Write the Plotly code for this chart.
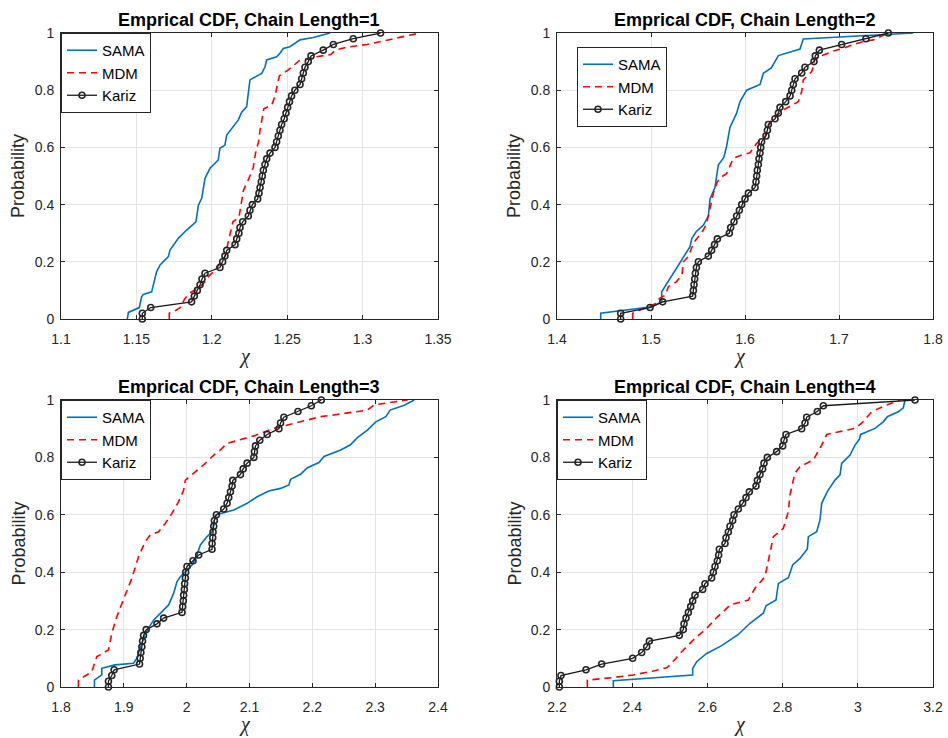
import plotly.graph_objects as go

# ---------------- data ----------------
prob = [0.00, 0.02, 0.04, 0.06, 0.08, 0.10, 0.12, 0.14, 0.16, 0.18,
        0.20, 0.22, 0.24, 0.26, 0.28, 0.30, 0.32, 0.34, 0.36, 0.38,
        0.40, 0.42, 0.44, 0.46, 0.48, 0.50, 0.52, 0.54, 0.56, 0.58,
        0.60, 0.62, 0.64, 0.66, 0.68, 0.70, 0.72, 0.74, 0.76, 0.78,
        0.80, 0.82, 0.84, 0.86, 0.88, 0.90, 0.92, 0.94, 0.96, 0.98, 1.00]

# Chain length = 1
sama1_x = [1.1440, 1.1447, 1.1519, 1.1535, 1.1546, 1.1601, 1.1623, 1.1634, 1.1657, 1.1712,
           1.1723, 1.1778, 1.1833, 1.1895, 1.1911, 1.1933, 1.1955, 1.1988, 1.2043, 1.2054,
           1.2087, 1.2099, 1.2176, 1.2198, 1.2231, 1.2242, 1.2253, 1.2331, 1.2353, 1.2364,
           1.2430, 1.2452, 1.2474, 1.2518, 1.2585, 1.2673, 1.2784]
sama1_y = [0, 0.023, 0.040, 0.078, 0.086, 0.095, 0.142, 0.165, 0.189, 0.218,
           0.241, 0.282, 0.311, 0.340, 0.398, 0.422, 0.492, 0.527, 0.556, 0.597,
           0.608, 0.643, 0.696, 0.723, 0.742, 0.795, 0.836, 0.859, 0.882, 0.906,
           0.917, 0.929, 0.946, 0.952, 0.976, 0.984, 1.0]
mdm1_x = [1.1718, 1.1718, 1.176, 1.179, 1.182, 1.185, 1.191, 1.1955, 1.198, 1.202,
          1.206, 1.209, 1.2105, 1.212, 1.214, 1.218, 1.2195, 1.221, 1.2245, 1.2275,
          1.229, 1.231, 1.232, 1.2335, 1.2345, 1.2397, 1.242, 1.2435, 1.2448, 1.2507,
          1.255, 1.258, 1.2695, 1.279, 1.282, 1.289, 1.303, 1.318, 1.338]
mdm1_y = [0, 0.02, 0.03, 0.04, 0.07, 0.09, 0.107, 0.13, 0.15, 0.17,
          0.20, 0.22, 0.26, 0.30, 0.34, 0.355, 0.41, 0.45, 0.49, 0.53,
          0.58, 0.62, 0.66, 0.70, 0.735, 0.748, 0.78, 0.82, 0.85, 0.871,
          0.888, 0.903, 0.917, 0.925, 0.94, 0.95, 0.96, 0.976, 1.0]
kariz1_x = [1.1539, 1.1539, 1.1595, 1.1866, 1.1884, 1.1904, 1.1922, 1.1935, 1.1955, 1.2054,
            1.2072, 1.2087, 1.2099, 1.2154, 1.2165, 1.2180, 1.2187, 1.2205, 1.2242, 1.2253,
            1.2269, 1.2304, 1.2313, 1.2320, 1.2328, 1.2335, 1.2342, 1.2353, 1.2364, 1.2386,
            1.2419, 1.2430, 1.2441, 1.2452, 1.2463, 1.2480, 1.2492, 1.2503, 1.2515, 1.2529,
            1.2551, 1.2585, 1.2596, 1.2607, 1.2618, 1.2640, 1.2658, 1.2739, 1.2806, 1.2938,
            1.3119]

# Chain length = 2
sama2_x = [1.4465, 1.4465, 1.5007, 1.5114, 1.5114, 1.52, 1.53, 1.5415, 1.5433, 1.548,
           1.5557, 1.561, 1.5628, 1.568, 1.5716, 1.5775, 1.5805, 1.584, 1.591, 1.5947,
           1.6018, 1.616, 1.6195, 1.628, 1.6355, 1.6585, 1.662, 1.72, 1.779]
sama2_y = [0, 0.02, 0.043, 0.06, 0.095, 0.14, 0.19, 0.253, 0.28, 0.305,
           0.328, 0.36, 0.42, 0.46, 0.538, 0.565, 0.605, 0.67, 0.719, 0.76,
           0.80, 0.82, 0.859, 0.878, 0.921, 0.944, 0.979, 0.99, 1.0]
mdm2_x = [1.4805, 1.4805, 1.4883, 1.506, 1.509, 1.515, 1.5185, 1.527, 1.533, 1.5344,
          1.5397, 1.545, 1.5504, 1.5557, 1.5592, 1.5628, 1.5663, 1.5706, 1.5752, 1.5805,
          1.584, 1.5876, 1.5965, 1.6053, 1.6124, 1.6213, 1.6266, 1.632, 1.641, 1.6567,
          1.6603, 1.662, 1.6709, 1.6727, 1.6745, 1.685, 1.6939, 1.7046, 1.7152, 1.7259,
          1.7365, 1.7525]
mdm2_y = [0, 0.02, 0.031, 0.055, 0.072, 0.083, 0.113, 0.13, 0.155, 0.20,
          0.218, 0.264, 0.288, 0.311, 0.334, 0.393, 0.439, 0.48, 0.497, 0.509,
          0.538, 0.562, 0.573, 0.581, 0.614, 0.637, 0.69, 0.707, 0.731, 0.76,
          0.795, 0.836, 0.865, 0.882, 0.911, 0.925, 0.937, 0.946, 0.96, 0.97,
          0.976, 1.0]
kariz2_x = [1.4677, 1.4677, 1.4990, 1.5124, 1.5443, 1.5451, 1.5458, 1.5465, 1.5472, 1.5483,
            1.5504, 1.5610, 1.5645, 1.5676, 1.5706, 1.5833, 1.5848, 1.5883, 1.5911, 1.5940,
            1.5965, 1.6000, 1.6036, 1.6107, 1.6117, 1.6124, 1.6131, 1.6142, 1.6149, 1.6160,
            1.6167, 1.6177, 1.6223, 1.6238, 1.6248, 1.6319, 1.6355, 1.6372, 1.6433, 1.6479,
            1.6497, 1.6514, 1.6532, 1.6603, 1.6638, 1.6734, 1.6748, 1.6791, 1.7028, 1.7287,
            1.7525]

# Chain length = 3
sama3_x = [1.8532, 1.8532, 1.8649, 1.8649, 1.886, 1.9154, 1.9207, 1.927, 1.934, 1.9473,
           1.958, 1.9713, 1.9792, 1.9846, 1.9899, 2.0016, 2.0085, 2.0154, 2.0218, 2.0324,
           2.0404, 2.0457, 2.0564, 2.075, 2.0963, 2.1122, 2.1308, 2.1494, 2.1627, 2.1654,
           2.1813, 2.192, 2.2106, 2.2186, 2.2452, 2.2601, 2.2718, 2.2877, 2.301, 2.317,
           2.3239, 2.3462, 2.3622]
sama3_y = [0, 0.024, 0.042, 0.065, 0.077, 0.083, 0.10, 0.14, 0.187, 0.233,
           0.257, 0.286, 0.326, 0.367, 0.384, 0.408, 0.425, 0.454, 0.495, 0.524,
           0.541, 0.599, 0.605, 0.617, 0.64, 0.663, 0.683, 0.692, 0.704, 0.724,
           0.741, 0.764, 0.782, 0.803, 0.826, 0.843, 0.869, 0.895, 0.924, 0.942,
           0.965, 0.982, 1.0]
mdm3_x = [1.8277, 1.8277, 1.8409, 1.849, 1.8543, 1.857, 1.8622, 1.8755, 1.8808, 1.8888,
          1.9021, 1.9128, 1.9234, 1.934, 1.942, 1.9553, 1.966, 1.9766, 1.9872, 1.9952,
          1.9979, 2.0112, 2.0271, 2.0431, 2.0537, 2.0643, 2.0856, 2.1069, 2.1388, 2.192,
          2.2133, 2.2345, 2.2877, 2.2984, 2.3516]
mdm3_y = [0, 0.024, 0.042, 0.053, 0.088, 0.106, 0.112, 0.129, 0.187, 0.245,
          0.32, 0.379, 0.454, 0.506, 0.53, 0.541, 0.57, 0.605, 0.646, 0.686,
          0.721, 0.744, 0.774, 0.808, 0.826, 0.849, 0.863, 0.875, 0.901, 0.93,
          0.942, 0.948, 0.965, 0.983, 1.0]
kariz3_x = [1.8755, 1.8755, 1.8808, 1.8846, 1.925, 1.926, 1.9271, 1.9287, 1.9298, 1.9314,
            1.9356, 1.9527, 1.9633, 1.9926, 1.9936, 1.9947, 1.9952, 1.9963, 1.9968, 1.9979,
            1.9984, 2.0005, 2.0101, 2.0191, 2.0404, 2.0404, 2.0415, 2.042, 2.0431, 2.0441,
            2.0473, 2.059, 2.0643, 2.067, 2.0697, 2.0723, 2.0734, 2.0856, 2.0899, 2.0962,
            2.1069, 2.1079, 2.1095, 2.1164, 2.1282, 2.1468, 2.1494, 2.1547, 2.1771, 2.1984,
            2.2143]

# Chain length = 4
sama4_x = [2.3498, 2.3498, 2.5608, 2.5608, 2.5715, 2.598, 2.638, 2.66, 2.6823, 2.7133,
           2.7488, 2.7559, 2.7825, 2.7887, 2.8153, 2.8268, 2.8463, 2.8658, 2.8685, 2.8906,
           2.8995, 2.904, 2.9189, 2.9393, 2.9527, 2.9571, 2.9793, 2.9926, 3.004, 3.0077,
           3.0458, 3.0679, 3.0785, 3.1078, 3.1211, 3.1255]
sama4_y = [0, 0.022, 0.042, 0.065, 0.088, 0.117, 0.144, 0.164, 0.183, 0.222,
           0.257, 0.283, 0.303, 0.361, 0.381, 0.425, 0.448, 0.481, 0.524, 0.541,
           0.582, 0.64, 0.681, 0.721, 0.739, 0.779, 0.808, 0.843, 0.863, 0.88,
           0.901, 0.924, 0.942, 0.959, 0.973, 1.0]
mdm4_x = [2.2807, 2.2807, 2.3498, 2.403, 2.4562, 2.4917, 2.5005, 2.5316, 2.5582, 2.5715,
          2.598, 2.6247, 2.6468, 2.6601, 2.7089, 2.7266, 2.7532, 2.762, 2.7754, 2.802,
          2.8152, 2.8197, 2.8329, 2.8463, 2.8817, 2.9039, 2.9172, 2.9926, 3.0103, 3.0369,
          3.0768, 3.1123]
mdm4_y = [0, 0.024, 0.033, 0.042, 0.056, 0.067, 0.077, 0.123, 0.158, 0.175,
          0.204, 0.242, 0.268, 0.286, 0.303, 0.344, 0.384, 0.437, 0.524, 0.553,
          0.611, 0.669, 0.745, 0.768, 0.791, 0.843, 0.88, 0.901, 0.919, 0.959,
          0.983, 1.0]
kariz4_x = [2.2062, 2.2062, 2.2106, 2.2771, 2.3188, 2.4012, 2.4252, 2.4385, 2.4456, 2.5254,
            2.536, 2.5378, 2.5431, 2.5493, 2.5555, 2.5608, 2.567, 2.5874, 2.5936, 2.6113,
            2.6158, 2.6202, 2.6264, 2.6300, 2.6317, 2.6468, 2.6495, 2.6557, 2.6601, 2.6672,
            2.6708, 2.6823, 2.6938, 2.7027, 2.7115, 2.7293, 2.7328, 2.7399, 2.747, 2.7505,
            2.7594, 2.7842, 2.8002, 2.8037, 2.809, 2.8507, 2.8596, 2.864, 2.8925, 2.9083,
            3.1521]

series_names = ["SAMA", "MDM", "Kariz"]
chain_lengths = [1, 2, 3, 4]

x1_ticks = [1.1, 1.15, 1.2, 1.25, 1.3, 1.35]
x1_text = ["1.1", "1.15", "1.2", "1.25", "1.3", "1.35"]
x2_ticks = [1.4, 1.5, 1.6, 1.7, 1.8]
x2_text = ["1.4", "1.5", "1.6", "1.7", "1.8"]
x3_ticks = [1.8, 1.9, 2.0, 2.1, 2.2, 2.3, 2.4]
x3_text = ["1.8", "1.9", "2", "2.1", "2.2", "2.3", "2.4"]
x4_ticks = [2.2, 2.4, 2.6, 2.8, 3.0, 3.2]
x4_text = ["2.2", "2.4", "2.6", "2.8", "3", "3.2"]
y_ticks = [0, 0.2, 0.4, 0.6, 0.8, 1.0]
y_text = ["0", "0.2", "0.4", "0.6", "0.8", "1"]

# ---------------- figure ----------------
W, H = 948, 738
FONT = "Liberation Sans, Arial, Helvetica, sans-serif"
AXC = "#262626"

def fx(p):
    return p / W

def fy(p):
    return 1 - p / H

col_px = [(61, 438), (557, 933)]
row_px = [(33, 319), (400, 687)]

panels = [
    dict(sx=sama1_x, sy=sama1_y, mx=mdm1_x, my=mdm1_y, kx=kariz1_x,
         ticks=x1_ticks, text=x1_text, col=0, row=0, leg=(61, 33)),
    dict(sx=sama2_x, sy=sama2_y, mx=mdm2_x, my=mdm2_y, kx=kariz2_x,
         ticks=x2_ticks, text=x2_text, col=1, row=0, leg=(577, 47)),
    dict(sx=sama3_x, sy=sama3_y, mx=mdm3_x, my=mdm3_y, kx=kariz3_x,
         ticks=x3_ticks, text=x3_text, col=0, row=1, leg=(61, 400)),
    dict(sx=sama4_x, sy=sama4_y, mx=mdm4_x, my=mdm4_y, kx=kariz4_x,
         ticks=x4_ticks, text=x4_text, col=1, row=1, leg=(557, 400)),
]

fig = go.Figure()
layout = dict(
    width=W, height=H,
    margin=dict(l=0, r=0, t=0, b=0),
    paper_bgcolor="white", plot_bgcolor="white",
    font=dict(family=FONT, size=14, color=AXC),
    showlegend=True,
)
annotations = []

for i, p in enumerate(panels):
    n = i + 1
    sfx = "" if n == 1 else str(n)
    xa, ya = "x" + sfx, "y" + sfx
    leg = "legend" + sfx
    c0, c1 = col_px[p["col"]]
    r0, r1 = row_px[p["row"]]

    fig.add_trace(go.Scatter(x=p["sx"], y=p["sy"], mode="lines", name=series_names[0],
                             line=dict(color="#0072BD", width=1.6),
                             xaxis=xa, yaxis=ya, legend=leg))
    fig.add_trace(go.Scatter(x=p["mx"], y=p["my"], mode="lines", name=series_names[1],
                             line=dict(color="#FF0000", width=1.6, dash="7px,5px"),
                             xaxis=xa, yaxis=ya, legend=leg))
    fig.add_trace(go.Scatter(x=p["kx"], y=prob, mode="lines+markers", name=series_names[2],
                             line=dict(color="#1a1a1a", width=1.3),
                             marker=dict(symbol="circle-open", size=6, color="#262626",
                                         line=dict(width=1.6)),
                             cliponaxis=False,
                             xaxis=xa, yaxis=ya, legend=leg))

    axis_common = dict(showline=True, linecolor=AXC, linewidth=1, mirror="ticks",
                       ticks="inside", ticklen=4, tickcolor=AXC, tickwidth=1,
                       showgrid=True, gridcolor="#e3e3e3", gridwidth=1,
                       zeroline=False, automargin=False,
                       tickfont=dict(family=FONT, size=14, color=AXC))
    layout["xaxis" + sfx] = dict(axis_common, domain=[fx(c0), fx(c1)], anchor=ya,
                                 range=[p["ticks"][0], p["ticks"][-1]],
                                 tickmode="array", tickvals=p["ticks"], ticktext=p["text"],
                                 ticklabelstandoff=7)
    layout["yaxis" + sfx] = dict(axis_common, domain=[fy(r1), fy(r0)], anchor=xa,
                                 range=[0, 1], tickmode="array",
                                 tickvals=y_ticks, ticktext=y_text,
                                 ticklabelstandoff=3)
    layout[leg] = dict(x=fx(p["leg"][0]), y=fy(p["leg"][1]), xanchor="left", yanchor="top",
                       bgcolor="white", bordercolor=AXC, borderwidth=1,
                       font=dict(family=FONT, size=15, color="#000"),
                       itemwidth=30, tracegroupgap=0)

    cx = (c0 + c1) / 2
    annotations.append(dict(text="<b>Emprical CDF, Chain Length=%d</b>" % chain_lengths[i],
                            x=fx(cx), y=fy(r0 - 13), xref="paper", yref="paper",
                            xanchor="center", yanchor="middle", showarrow=False,
                            font=dict(family=FONT, size=18, color="#000")))
    annotations.append(dict(text="Probability", x=fx(c0 - 43), y=fy((r0 + r1) / 2),
                            xref="paper", yref="paper", textangle=-90,
                            xanchor="center", yanchor="middle", showarrow=False,
                            font=dict(family=FONT, size=18, color=AXC)))
    annotations.append(dict(text="<i>χ</i>", x=fx(cx - 5), y=fy(r1 + 50),
                            xref="paper", yref="paper", borderpad=0,
                            xanchor="center", yanchor="bottom", showarrow=False,
                            font=dict(family="Liberation Serif, Times New Roman, serif",
                                      size=20, color=AXC)))

layout["annotations"] = annotations
fig.update_layout(**layout)
fig.write_html("out.html")
